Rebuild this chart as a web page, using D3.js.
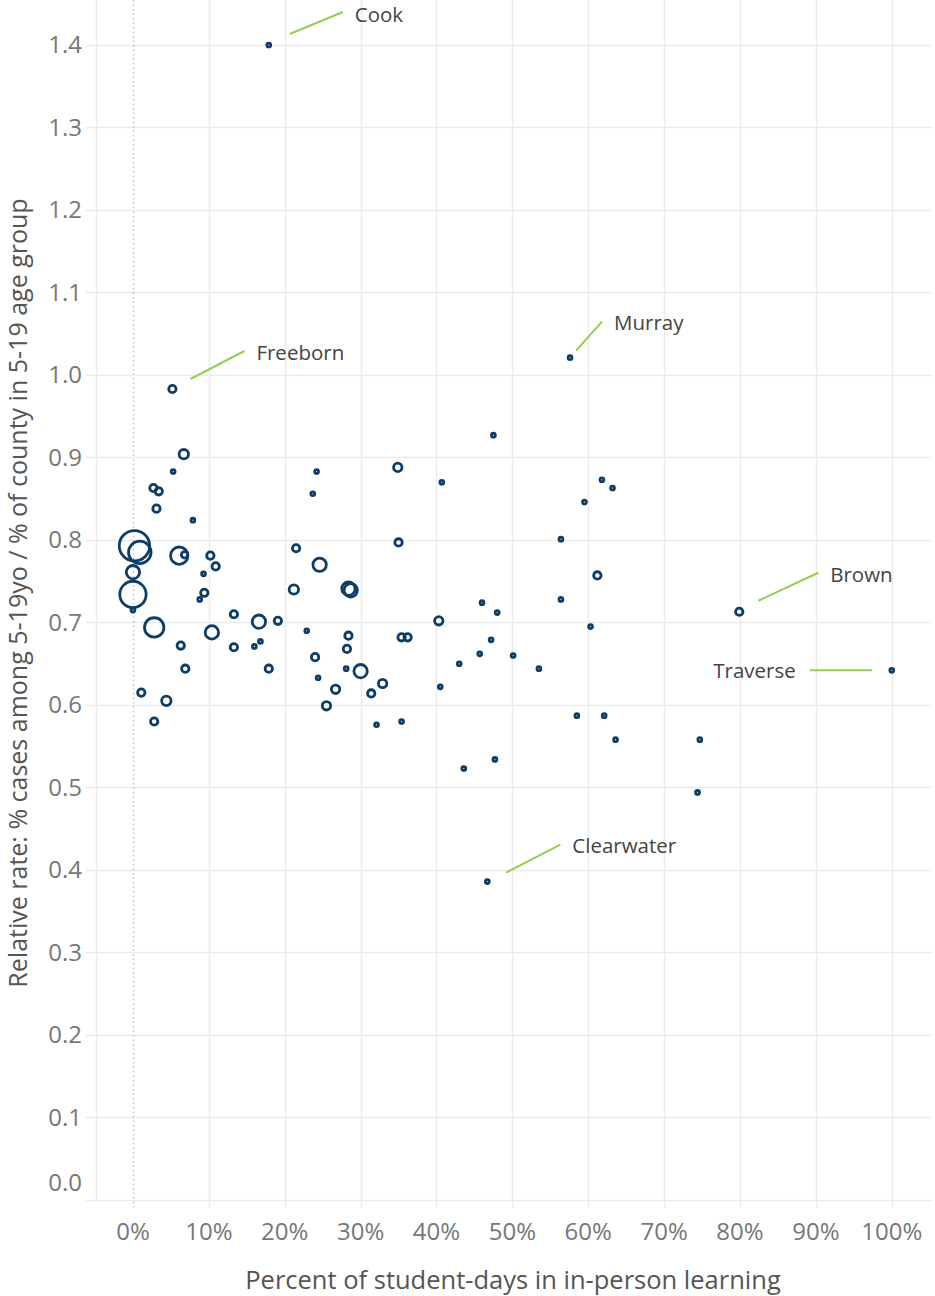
<!DOCTYPE html>
<html>
<head>
<meta charset="utf-8">
<script src="https://cdn.jsdelivr.net/npm/d3@7"></script>
<style>
  html, body { margin: 0; padding: 0; background: #fff; }
  svg { display: block; font-family: "Open Sans", sans-serif; }
</style>
</head>
<body>
<svg id="chart" width="935" height="1296"></svg>
<script>
// ---- data ----
const inPersonPct = [17.9,5.2,57.6,79.9,100,46.7,47.5,6.7,5.3,2.7,3.4,3.1,7.9,0.2,0.9,6.1,6.8,10.2,10.9,9.3,0.0,9.4,8.8,0.0,0.0,2.8,13.3,16.6,19.1,10.4,6.3,13.3,16.0,16.8,6.9,17.9,1.1,4.4,2.8,21.5,24.6,24.2,23.7,21.2,28.4,28.7,22.9,28.4,28.2,24.0,28.1,24.4,30.0,32.9,26.7,31.4,25.5,32.1,35.4,34.9,40.7,35.0,40.3,35.4,36.2,46.0,48.0,47.2,45.7,43.0,50.1,53.5,40.5,61.8,63.2,59.5,56.4,61.2,56.4,60.3,58.5,62.1,63.6,74.7,74.4,43.6,47.7];
const relativeRate = [1.400,0.983,1.021,0.713,0.642,0.386,0.927,0.904,0.883,0.863,0.859,0.838,0.824,0.793,0.785,0.781,0.782,0.781,0.768,0.759,0.761,0.736,0.728,0.734,0.715,0.694,0.710,0.701,0.702,0.688,0.672,0.670,0.671,0.677,0.644,0.644,0.615,0.605,0.580,0.790,0.770,0.883,0.856,0.740,0.741,0.739,0.690,0.684,0.668,0.658,0.644,0.633,0.641,0.626,0.619,0.614,0.599,0.576,0.580,0.888,0.870,0.797,0.702,0.682,0.682,0.724,0.712,0.679,0.662,0.650,0.660,0.644,0.622,0.873,0.863,0.846,0.801,0.757,0.728,0.695,0.587,0.587,0.558,0.558,0.494,0.523,0.534];
const enrollment = [1.6,5.8,1.6,5.8,1.6,1.6,1.6,9.4,1.6,5.8,5.8,5.8,1.6,99,54,32,4.4,5.8,5.8,1.6,19,5.8,1.6,74,1.6,40,5.8,19,5.8,19,5.8,5.8,1.6,1.6,5.8,5.8,5.8,9.4,5.8,5.8,19,1.6,1.6,9.4,19,19,1.6,5.8,5.8,5.8,1.6,1.6,19,7.5,7.5,5.8,7.5,1.6,1.6,7.5,1.6,5.8,7.5,5.8,5.8,1.6,1.6,1.6,1.6,1.6,1.6,1.6,1.6,1.6,1.6,1.6,1.6,5.8,1.6,1.6,1.6,1.6,1.6,1.6,1.6,1.6,1.6];
const countyNames = ["Cook","Freeborn","Murray","Brown","Traverse","Clearwater"];
const xTicks = [0,10,20,30,40,50,60,70,80,90,100];
const yTicks = [0.0,0.1,0.2,0.3,0.4,0.5,0.6,0.7,0.8,0.9,1.0,1.1,1.2,1.3,1.4];
const xTitle = "Percent of student-days in in-person learning";
const yTitle = "Relative rate: % cases among 5-19yo / % of county in 5-19 age group";

// annotation layout (label anchor offsets relative to the point)
const annoLayout = {
  Cook:       {x1: 21, y1: -11, x2: 74, y2: -33, tx: 86, ty: -30, anchor: "start"},
  Freeborn:   {x1: 18, y1: -10, x2: 72, y2: -38, tx: 84, ty: -36, anchor: "start"},
  Murray:     {x1: 6,  y1: -7,  x2: 32, y2: -36, tx: 44, ty: -35, anchor: "start"},
  Brown:      {x1: 19, y1: -11, x2: 79, y2: -39, tx: 91, ty: -37, anchor: "start"},
  Traverse:   {x1: -20, y1: 0,  x2: -82, y2: 0,  tx: -96, ty: 0,  anchor: "end"},
  Clearwater: {x1: 19, y1: -9,  x2: 73, y2: -37, tx: 85, ty: -36, anchor: "start"}
};

(function () {
const points = inPersonPct.map((v, i) => ({x: v, y: relativeRate[i], s: enrollment[i], name: i < countyNames.length ? countyNames[i] : null}));

// ---- layout ----
const svg = d3.select("#chart");
const padL = 96, padR = 932, padT = 0, padB = 1200;
const x = d3.scaleLinear().domain([-4.87, 105.3]).range([padL, padR]);
const y = d3.scaleLinear().domain([0, 1.4545]).range([padB, padT]);
const r = d3.scaleSqrt().domain([0, 100]).range([0, 15.3]);

const gridColor = "#ebebeb";

// horizontal gridlines (with tick extension on the left)
svg.append("g").selectAll("line").data(yTicks).join("line")
  .attr("x1", padL - 10).attr("x2", padR)
  .attr("y1", d => Math.round(y(d)) + 0.5).attr("y2", d => Math.round(y(d)) + 0.5)
  .attr("stroke", gridColor).attr("stroke-width", 1.5);

// left border of pane
svg.append("line").attr("x1", padL + 0.5).attr("x2", padL + 0.5).attr("y1", padT).attr("y2", padB)
  .attr("stroke", gridColor).attr("stroke-width", 1.5);

// vertical gridlines
svg.append("g").selectAll("line").data(xTicks.filter(d => d !== 0)).join("line")
  .attr("x1", d => Math.round(x(d)) + 0.5).attr("x2", d => Math.round(x(d)) + 0.5)
  .attr("y1", padT).attr("y2", padB + 8)
  .attr("stroke", gridColor).attr("stroke-width", 1.5);

// zero line (dotted)
svg.append("line")
  .attr("x1", Math.round(x(0)) + 0.5).attr("x2", Math.round(x(0)) + 0.5)
  .attr("y1", padT).attr("y2", padB + 8)
  .attr("stroke", "#bdbdbd").attr("stroke-width", 1.3).attr("stroke-dasharray", "1.5,3");

// axis tick labels
svg.append("g").selectAll("text").data(yTicks).join("text")
  .attr("x", 82).attr("y", d => d === 0 ? y(d) - 17 : y(d))
  .attr("dy", "0.35em").attr("text-anchor", "end")
  .attr("font-size", 24).attr("fill", "#777")
  .text(d => d3.format(".1f")(d));

svg.append("g").selectAll("text").data(xTicks).join("text")
  .attr("x", d => x(d)).attr("y", 1232).attr("dy", "0.35em")
  .attr("text-anchor", "middle").attr("font-size", 24).attr("fill", "#777")
  .text(d => d + "%");

// axis titles
svg.append("text").attr("x", 513).attr("y", 1280).attr("dy", "0.35em")
  .attr("text-anchor", "middle").attr("font-size", 25.5).attr("fill", "#555")
  .text(xTitle);
svg.append("text").attr("transform", "translate(18.5,593) rotate(-90)").attr("dy", "0.35em")
  .attr("text-anchor", "middle").attr("font-size", 25).attr("fill", "#555")
  .text(yTitle);

// points
svg.append("g").selectAll("circle").data(points).join("circle")
  .attr("cx", d => x(d.x)).attr("cy", d => y(d.y)).attr("r", d => r(d.s))
  .attr("fill", "none").attr("stroke", "#0e3d66").attr("stroke-width", 2.8);

// annotations
const ann = svg.append("g");
points.filter(d => d.name).forEach(d => {
  const L = annoLayout[d.name];
  const px = x(d.x), py = y(d.y);
  ann.append("line").attr("x1", px + L.x1).attr("y1", py + L.y1).attr("x2", px + L.x2).attr("y2", py + L.y2)
    .attr("stroke", "#92d050").attr("stroke-width", 2);
  ann.append("text").attr("x", px + L.tx).attr("y", py + L.ty).attr("dy", "0.35em")
    .attr("text-anchor", L.anchor).attr("font-size", 20.5).attr("fill", "#444")
    .text(d.name);
});
})();
</script>
</body>
</html>
